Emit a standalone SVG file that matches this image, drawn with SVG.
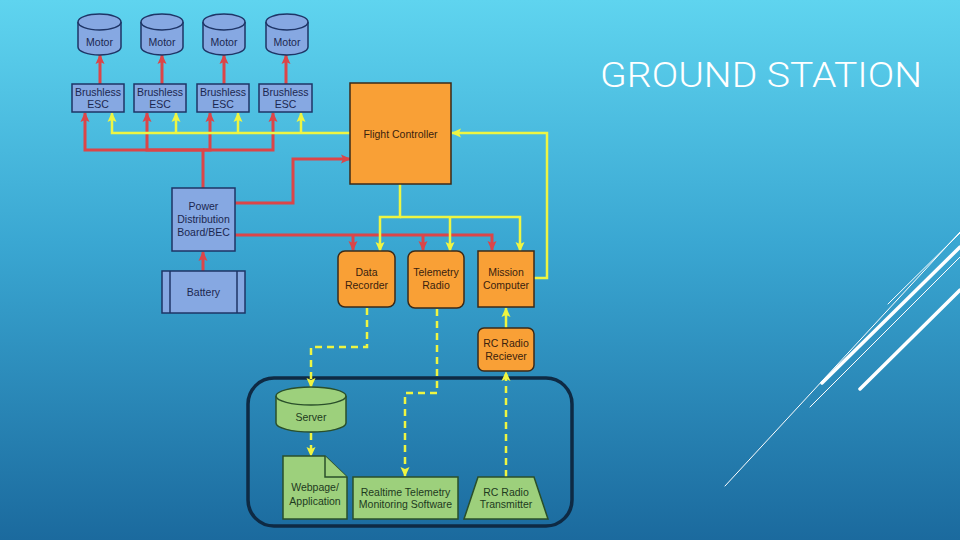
<svg xmlns="http://www.w3.org/2000/svg" width="960" height="540" viewBox="0 0 960 540">
<defs>
<linearGradient id="bg" x1="0" y1="0" x2="0" y2="1">
<stop offset="0" stop-color="#5fd4ef"/>
<stop offset="0.45" stop-color="#3aa7d2"/>
<stop offset="1" stop-color="#1b6a9e"/>
</linearGradient>
<marker id="ar" markerUnits="userSpaceOnUse" markerWidth="10" markerHeight="10" refX="9" refY="5" orient="auto"><path d="M0,0.5 L10,5 L0,9.5 L2,5 z" fill="#dc4548"/></marker>
<marker id="ay" markerUnits="userSpaceOnUse" markerWidth="10" markerHeight="10" refX="9" refY="5" orient="auto"><path d="M0,0.5 L10,5 L0,9.5 L2,5 z" fill="#eef542"/></marker>
<style>
.blue{fill:#86a8e2;stroke:#1e3566;stroke-width:1.5}
.orange{fill:#f9a036;stroke:#3b2a18;stroke-width:1.5}
.green{fill:#9dd07c;stroke:#2a4f2a;stroke-width:1.5}
.t{font-family:"Liberation Sans",Arial,sans-serif;font-size:10.5px;text-anchor:middle}
.tb{fill:#1b2750}
.to{fill:#3a220e}
.tg{fill:#1e3a1e}
.red{fill:none;stroke:#dc4548;stroke-width:3;marker-end:url(#ar)}
.yel{fill:none;stroke:#eef542;stroke-width:2.5;marker-end:url(#ay)}
.dash{fill:none;stroke:#eef542;stroke-width:2.5;stroke-dasharray:7 5;marker-end:url(#ay)}
.deco{stroke:#ffffff;fill:none;stroke-linecap:round}
</style>
</defs>
<rect width="960" height="540" fill="url(#bg)"/>

<g id="decor">
<line class="deco" x1="725" y1="486" x2="960" y2="232" stroke-width="1"/>
<line class="deco" x1="810" y1="407" x2="960" y2="257" stroke-width="1"/>
<line class="deco" x1="888" y1="304" x2="960" y2="233" stroke-width="1"/>
<line class="deco" x1="822" y1="383" x2="960" y2="247" stroke-width="3.5"/>
<line class="deco" x1="860" y1="389" x2="960" y2="290" stroke-width="3.5"/>
</g>

<text id="title" x="600" y="87" font-family="Roboto,'Open Sans','Liberation Sans',sans-serif" font-weight="300" font-size="35" fill="#ffffff" textLength="322" lengthAdjust="spacingAndGlyphs">GROUND STATION</text>

<g id="groundstation">
<rect x="248" y="378" width="324" height="148" rx="26" fill="none" stroke="#0e2a44" stroke-width="3.5"/>
</g>

<g id="connectors">
<path class="red" d="M100,84 V55"/>
<path class="red" d="M162,84 V55"/>
<path class="red" d="M224,84 V55"/>
<path class="red" d="M286,84 V55"/>
<path class="red" d="M203,188 V150 H85 V113"/>
<path class="red" d="M203,150 H147 V113"/>
<path class="red" d="M203,150 H210 V113"/>
<path class="red" d="M203,150 H273 V113"/>
<path class="red" d="M235,203 H293 V159 H350"/>
<path class="red" d="M235,235 H492 V250"/>
<path class="red" d="M353,235 V250"/>
<path class="red" d="M423,235 V250"/>
<path class="red" d="M203,271 V252"/>
<path class="yel" d="M350,133 H112 V113"/>
<path class="yel" d="M176,133 V113"/>
<path class="yel" d="M238,133 V113"/>
<path class="yel" d="M301,133 V113"/>
<path class="yel" d="M400,184 V217 H380 V251"/>
<path class="yel" d="M400,217 H520 V251"/>
<path class="yel" d="M450,217 V251"/>
<path class="yel" d="M534,278 H547 V133 H452"/>
<path class="yel" d="M506,328 V308"/>
<path class="dash" d="M367,308 V347 H311 V387"/>
<path class="dash" d="M437,309 V393 H405 V476"/>
<path class="dash" d="M506,477 V372"/>
<path class="dash" d="M311,433 V456"/>
</g>

<g id="motor1"><path class="blue" d="M78,22 A21.5,8 0 0 1 121,22 V47 A21.5,8 0 0 1 78,47 Z"/><path class="blue" d="M78,22 A21.5,8 0 0 0 121,22" fill="none"/><text class="t tb" x="99.5" y="46">Motor</text></g>
<g id="motor2"><path class="blue" d="M141,22 A21,8 0 0 1 183,22 V47 A21,8 0 0 1 141,47 Z"/><path class="blue" d="M141,22 A21,8 0 0 0 183,22" fill="none"/><text class="t tb" x="162" y="46">Motor</text></g>
<g id="motor3"><path class="blue" d="M203,22 A21,8 0 0 1 245,22 V47 A21,8 0 0 1 203,47 Z"/><path class="blue" d="M203,22 A21,8 0 0 0 245,22" fill="none"/><text class="t tb" x="224" y="46">Motor</text></g>
<g id="motor4"><path class="blue" d="M266,22 A21,8 0 0 1 308,22 V47 A21,8 0 0 1 266,47 Z"/><path class="blue" d="M266,22 A21,8 0 0 0 308,22" fill="none"/><text class="t tb" x="287" y="46">Motor</text></g>

<g id="esc1"><rect class="blue" x="72" y="84" width="52" height="28"/><text class="t tb" x="98" y="96">Brushless</text><text class="t tb" x="98" y="108">ESC</text></g>
<g id="esc2"><rect class="blue" x="134" y="84" width="52" height="28"/><text class="t tb" x="160" y="96">Brushless</text><text class="t tb" x="160" y="108">ESC</text></g>
<g id="esc3"><rect class="blue" x="197" y="84" width="52" height="28"/><text class="t tb" x="223" y="96">Brushless</text><text class="t tb" x="223" y="108">ESC</text></g>
<g id="esc4"><rect class="blue" x="259" y="84" width="53" height="28"/><text class="t tb" x="285.5" y="96">Brushless</text><text class="t tb" x="285.5" y="108">ESC</text></g>

<g id="pdb"><rect class="blue" x="172" y="188" width="63" height="63"/><text class="t tb" x="203.5" y="210">Power</text><text class="t tb" x="203.5" y="223">Distribution</text><text class="t tb" x="203.5" y="236">Board/BEC</text></g>

<g id="battery"><rect class="blue" x="162" y="271" width="83" height="42"/><line x1="170" y1="271" x2="170" y2="313" stroke="#1e3566" stroke-width="1.5"/><line x1="237" y1="271" x2="237" y2="313" stroke="#1e3566" stroke-width="1.5"/><text class="t tb" x="203.5" y="296">Battery</text></g>

<g id="flightcontroller"><rect class="orange" x="350" y="83" width="101" height="101"/><text class="t to" x="400.5" y="138">Flight Controller</text></g>

<g id="datarecorder"><rect class="orange" x="338" y="251" width="57" height="56" rx="7"/><text class="t to" x="366.5" y="276">Data</text><text class="t to" x="366.5" y="289">Recorder</text></g>
<g id="telemetryradio"><rect class="orange" x="408" y="251" width="56" height="57" rx="7"/><text class="t to" x="436" y="276">Telemetry</text><text class="t to" x="436" y="289">Radio</text></g>
<g id="missioncomputer"><rect class="orange" x="478" y="251" width="56" height="56"/><text class="t to" x="506" y="276">Mission</text><text class="t to" x="506" y="289">Computer</text></g>
<g id="rcreceiver"><rect class="orange" x="478" y="328" width="56" height="43" rx="6"/><text class="t to" x="506" y="347">RC Radio</text><text class="t to" x="506" y="360">Reciever</text></g>

<g id="server"><path class="green" d="M276,396 A35,9 0 0 1 346,396 V423 A35,9 0 0 1 276,423 Z"/><path class="green" d="M276,396 A35,9 0 0 0 346,396" fill="none"/><text class="t tg" x="311" y="421">Server</text></g>
<g id="webpage"><path class="green" d="M283,456 H325 L347,477 V519 H283 Z"/><path class="green" d="M325,456 V477 H347" fill="none"/><text class="t tg" x="315" y="491">Webpage/</text><text class="t tg" x="315" y="505">Application</text></g>
<g id="realtime"><rect class="green" x="353" y="477" width="105" height="42"/><text class="t tg" x="405.5" y="496">Realtime Telemetry</text><text class="t tg" x="405.5" y="508">Monitoring Software</text></g>
<g id="rctransmitter"><path class="green" d="M478,477 H534 L548,519 H464 Z"/><text class="t tg" x="506" y="496">RC Radio</text><text class="t tg" x="506" y="508">Transmitter</text></g>
</svg>
